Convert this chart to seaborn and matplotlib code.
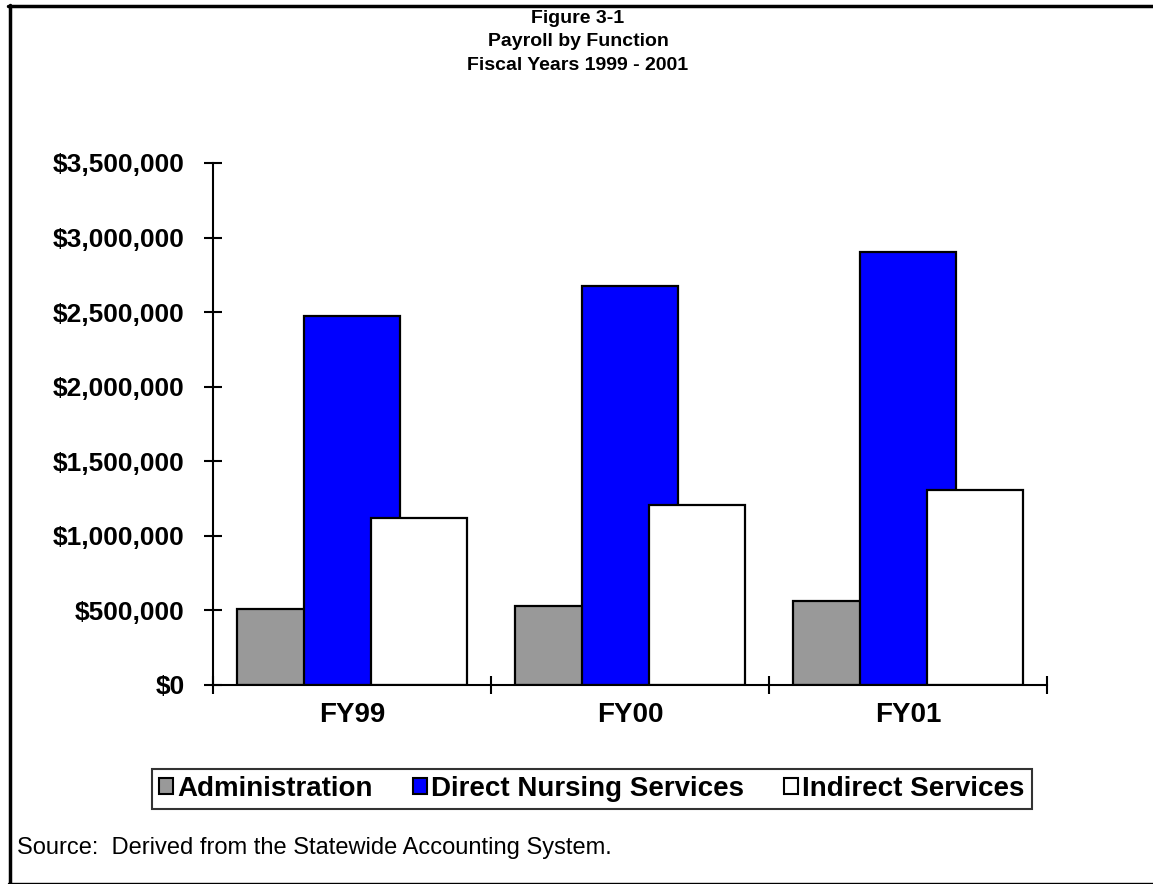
import numpy as np
import matplotlib
matplotlib.use('Agg')
import matplotlib.pyplot as plt
import seaborn as sns
from matplotlib.patches import Patch
from matplotlib.lines import Line2D
from matplotlib.ticker import FuncFormatter

# 数据
years = ['FY99', 'FY00', 'FY01']
functions = ['Administration', 'Direct Nursing Services', 'Indirect Services']
admin = [510000, 531000, 565000]
direct = [2475000, 2675000, 2900000]
indirect = [1120000, 1210000, 1310000]
colors = ['#999999', '#0000FF', '#FFFFFF']

sns.set_theme(style='white')
plt.rcParams['font.family'] = ['Liberation Sans', 'DejaVu Sans']
plt.rcParams['text.color'] = 'black'
plt.rcParams['xtick.color'] = 'black'
plt.rcParams['ytick.color'] = 'black'

W, H = 1153, 884
fig = plt.figure(figsize=(W / 100, H / 100), dpi=100)
ax = fig.add_axes([213 / W, 1 - 685 / H, 834 / W, 522 / H])

# 重叠柱状图：后画的覆盖先画的
offsets = [-0.241, 0.0, 0.241]
for vals, off, col in zip([admin, direct, indirect], offsets, colors):
    xpos = np.arange(len(years)) + off
    sns.barplot(x=xpos, y=vals, native_scale=True, width=0.345, color=col,
                saturation=1, edgecolor='black', linewidth=1.6,
                errorbar=None, orient='x', ax=ax)

ax.set_xlim(-0.5, 2.5)
ax.set_ylim(0, 3500000)
ax.set_yticks(np.arange(0, 3500001, 500000))
ax.yaxis.set_major_formatter(FuncFormatter(lambda v, p: '${:,.0f}'.format(v)))

ax.set_xticks([-0.5, 0.5, 1.5, 2.5])
ax.set_xticklabels([])
ax.set_xticks(range(len(years)), minor=True)
ax.set_xticklabels(years, minor=True)
ax.tick_params(axis='x', which='major', direction='inout', length=13,
               width=1.5, color='black', bottom=True)
ax.tick_params(axis='x', which='minor', length=0, pad=12, labelsize=20,
               bottom=True)
ax.tick_params(axis='y', direction='inout', length=13, width=1.5,
               color='black', left=True, labelsize=19, pad=14)
for lab in ax.get_xticklabels(minor=True) + ax.get_yticklabels():
    lab.set_fontweight('bold')
    lab.set_color('black')

for side in ['top', 'right']:
    ax.spines[side].set_visible(False)
for side in ['left', 'bottom']:
    ax.spines[side].set_color('black')
    ax.spines[side].set_linewidth(1.5)
ax.set_xlabel('')
ax.set_ylabel('')

# 标题
fig.text(578 / W, 1 - 42 / H, 'Figure 3-1\nPayroll by Function\nFiscal Years 1999 - 2001',
         ha='center', va='center', fontsize=14, fontweight='bold',
         linespacing=1.5, color='black')

# 图例
handles = [Patch(facecolor=c, edgecolor='black', linewidth=1.5) for c in colors]
leg = fig.legend(handles, functions, loc='center', ncol=3,
                 bbox_to_anchor=(592 / W, 1 - 789 / H), frameon=True,
                 fancybox=False, edgecolor='black', handlelength=0.5,
                 handleheight=0.5, handletextpad=0.15, columnspacing=1.45,
                 borderpad=0.25, borderaxespad=0,
                 prop={'size': 20, 'weight': 'bold'})
leg.get_frame().set_linewidth(1.5)
for t in leg.get_texts():
    t.set_color('black')

# 来源
fig.text(17 / W, 1 - 848 / H, 'Source:  Derived from the Statewide Accounting System.',
         ha='left', va='center', fontsize=17, color='black')

# 外框
fig.add_artist(Line2D([9.5 / W, 9.5 / W], [1 - 5 / H, 1 - 883 / H],
                      transform=fig.transFigure, color='black', linewidth=2.5))
fig.add_artist(Line2D([8 / W, 1], [1 - 5.5 / H, 1 - 5.5 / H],
                      transform=fig.transFigure, color='black', linewidth=2.5))
fig.add_artist(Line2D([8 / W, 1], [1 - 883 / H, 1 - 883 / H],
                      transform=fig.transFigure, color='black', linewidth=1))

plt.savefig('out.png', dpi=100)
